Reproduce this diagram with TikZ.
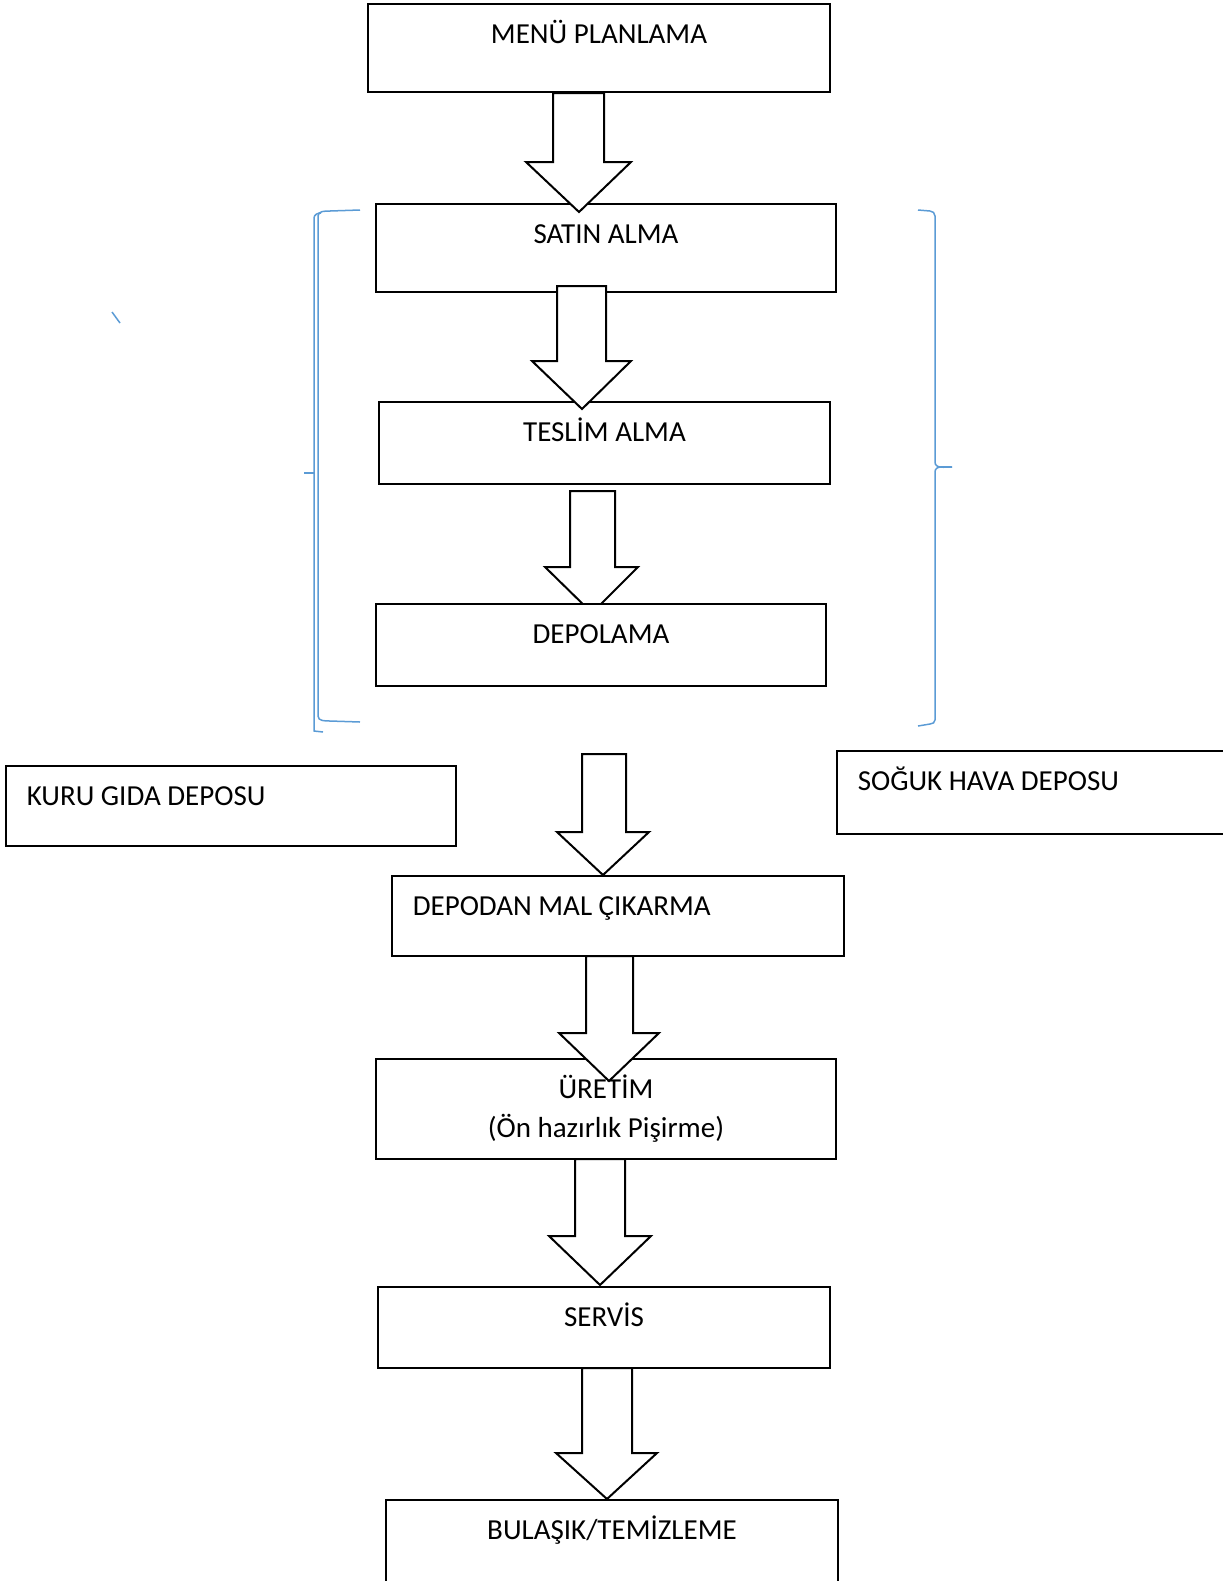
\documentclass[tikz,border=0pt]{standalone}
\usepackage{fontspec}
\setmainfont{Carlito}
\usetikzlibrary{positioning}
\definecolor{bracketblue}{HTML}{5B9BD5}
\tikzset{
	box/.style={draw, line width=1.3pt, rectangle, inner sep=0pt},
	mid/.style={label={[anchor=base, yshift=-20.25pt]north:#1}},
	midtwo/.style={label={[anchor=base, yshift=-39.75pt, align=center]north:#1}},
	left/.style={label={[anchor=base west, xshift=7.5pt, yshift=-20.25pt]north west:#1}},
	blockarr/.style={draw, fill=white, line width=1pt, line join=miter},
	brack/.style={draw=bracketblue, line width=0.75pt}
}

\begin{document}
\begin{tikzpicture}[x=0.5pt, y=-0.5pt, font=\fontsize{14.5}{19.5}\selectfont]
		\useasboundingbox (0,0) rectangle (1222,1581);
		%main chain
		\node[box, minimum width=231pt, minimum height=44pt, mid={MENÜ PLANLAMA}] (menu) at (599,48) {};
		\node[box, minimum width=230pt, minimum height=44pt, mid={SATIN ALMA}] (satin) at (606,248) {};
		\node[box, minimum width=225.5pt, minimum height=41pt, mid={TESLİM ALMA}] (teslim) at (604.5,443) {};
		\node[box, minimum width=226pt, minimum height=40pt, left={DEPODAN MAL ÇIKARMA}] (depodan) at (618,916) {};
		\node[box, minimum width=230pt, minimum height=50pt, midtwo={ÜRETİM\\(Ön hazırlık Pişirme)}] (uretim) at (606,1109) {};
		\node[box, minimum width=226pt, minimum height=40.5pt, mid={SERVİS}] (servis) at (604,1327.5) {};
		\node[box, minimum width=226pt, minimum height=50pt, mid={BULAŞIK/TEMİZLEME}] (bulasik) at (612,1550) {};
		%side stores
		\node[box, minimum width=225pt, minimum height=40pt, left={KURU GIDA DEPOSU}] (kuru) at (231,806) {};
		\node[box, minimum width=201.5pt, minimum height=41.5pt, left={SOĞUK HAVA DEPOSU}] (soguk) at (1038.5,792.5) {};
		%arrows
		\foreach \l/\r/\t/\h/\hl/\hr/\tx/\ty in {553/604/93/162/526/631/579/212, 557/606/286/361/532/631/582/409,
			570/615/491/567/545/638/592/613, 582/626/754/832/557/649/603/875, 586/633/956/1033/559/659/609/1081,
			575/625/1159/1236/549/651/600/1285, 582/632/1368/1453/556/657/607/1499}
			\draw[blockarr] (\l,\t) -- (\l,\h) -- (\hl,\h) -- (\tx,\ty) -- (\hr,\h) -- (\r,\h) -- (\r,\t) -- cycle;
		\node[box, fill=white, minimum width=225pt, minimum height=41pt, mid={DEPOLAMA}] (depolama) at (601,645) {};
		%brackets
		\draw[brack] (360,210) -- (330,211) to[out=180,in=90] (318,216) -- (318,716) to[out=-90,in=180] (330,721) -- (360,722);
		\draw[brack] (321,213) to[out=180,in=90] (314,218) -- (314,731) -- (323,732);
		\draw[brack] (304,473) -- (314,473);
		\draw[brack] (918,210) -- (930,211) to[out=0,in=90] (935,216) -- (935,462) to[out=-90,in=180] (952,467);
		\draw[brack] (952,467) to[out=180,in=90] (935,472) -- (935,720) to[out=-90,in=0] (930,724) -- (918,726);
		\draw[brack] (112,312) -- (120,323);
\end{tikzpicture}
\end{document}
